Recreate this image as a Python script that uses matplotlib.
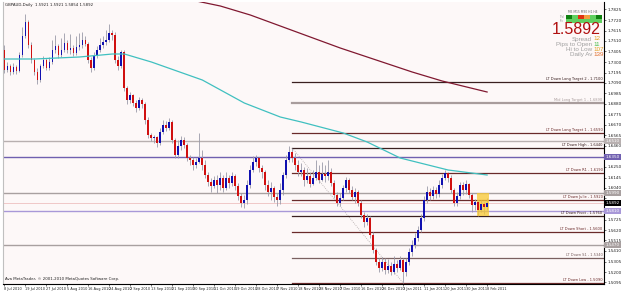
import matplotlib
matplotlib.use("Agg")
import matplotlib.pyplot as plt
import matplotlib.transforms as mtransforms
from matplotlib.patches import Rectangle

# ---------------- data ----------------
first_open = 1.742
close = [1.722,1.726,1.720,1.725,1.721,1.737,1.756,1.770,1.747,1.732,
         1.720,1.712,1.726,1.732,1.724,1.730,1.742,1.746,1.737,1.742,
         1.749,1.742,1.744,1.739,1.745,1.747,1.752,1.748,1.732,1.724,
         1.736,1.742,1.747,1.750,1.752,1.759,1.757,1.732,1.726,1.740,
         1.704,1.692,1.697,1.689,1.684,1.692,1.688,1.672,1.657,1.654,
         1.655,1.649,1.660,1.667,1.664,1.670,1.652,1.637,1.646,1.652,
         1.647,1.634,1.632,1.627,1.630,1.634,1.627,1.617,1.610,1.606,
         1.612,1.607,1.614,1.604,1.614,1.609,1.616,1.606,1.596,1.589,
         1.592,1.607,1.622,1.630,1.634,1.624,1.620,1.607,1.600,1.604,
         1.595,1.592,1.602,1.617,1.632,1.640,1.634,1.627,1.620,1.622,
         1.612,1.616,1.608,1.614,1.620,1.612,1.618,1.616,1.620,1.609,
         1.597,1.589,1.594,1.604,1.612,1.602,1.595,1.600,1.589,1.577,
         1.570,1.574,1.557,1.542,1.530,1.524,1.530,1.522,1.526,1.520,
         1.528,1.524,1.532,1.520,1.530,1.540,1.547,1.554,1.562,1.574,
         1.592,1.600,1.596,1.602,1.598,1.607,1.614,1.619,1.614,1.602,
         1.589,1.596,1.607,1.602,1.608,1.597,1.587,1.590,1.582,1.588,
         1.585,1.589]
high = [1.747,1.730,1.728,1.729,1.727,1.740,1.765,1.778,1.772,1.750,
        1.734,1.724,1.728,1.736,1.734,1.735,1.752,1.757,1.748,1.754,
        1.759,1.752,1.758,1.747,1.756,1.759,1.760,1.756,1.750,1.735,
        1.740,1.746,1.754,1.756,1.762,1.768,1.762,1.760,1.736,1.742,
        1.742,1.706,1.700,1.698,1.692,1.695,1.694,1.690,1.675,1.659,
        1.657,1.656,1.664,1.672,1.671,1.674,1.672,1.654,1.652,1.656,
        1.655,1.649,1.637,1.635,1.634,1.659,1.642,1.632,1.620,1.614,
        1.616,1.617,1.620,1.617,1.620,1.617,1.620,1.618,1.609,1.599,
        1.597,1.612,1.627,1.636,1.637,1.635,1.627,1.622,1.612,1.610,
        1.606,1.599,1.609,1.620,1.637,1.646,1.644,1.639,1.632,1.629,
        1.625,1.624,1.620,1.622,1.632,1.627,1.630,1.627,1.632,1.624,
        1.612,1.600,1.599,1.607,1.615,1.614,1.606,1.604,1.602,1.592,
        1.580,1.578,1.576,1.560,1.544,1.534,1.535,1.534,1.533,1.530,
        1.536,1.532,1.536,1.534,1.534,1.544,1.552,1.559,1.566,1.578,
        1.596,1.606,1.604,1.606,1.605,1.612,1.618,1.622,1.620,1.617,
        1.604,1.600,1.610,1.610,1.612,1.609,1.599,1.593,1.592,1.592,
        1.590,1.594]
low = [1.719,1.720,1.717,1.718,1.718,1.720,1.735,1.754,1.744,1.729,
       1.717,1.708,1.710,1.724,1.722,1.722,1.728,1.739,1.734,1.735,
       1.740,1.739,1.738,1.736,1.737,1.742,1.744,1.746,1.729,1.720,
       1.722,1.734,1.740,1.744,1.747,1.750,1.752,1.729,1.722,1.724,
       1.701,1.688,1.689,1.686,1.680,1.682,1.684,1.668,1.654,1.651,
       1.649,1.645,1.647,1.658,1.661,1.662,1.649,1.634,1.634,1.642,
       1.644,1.631,1.627,1.622,1.624,1.629,1.622,1.614,1.606,1.600,
       1.604,1.599,1.602,1.600,1.602,1.604,1.606,1.602,1.592,1.585,
       1.584,1.588,1.604,1.620,1.626,1.620,1.614,1.602,1.596,1.592,
       1.590,1.586,1.588,1.597,1.614,1.630,1.630,1.622,1.616,1.616,
       1.606,1.609,1.605,1.607,1.612,1.609,1.611,1.610,1.612,1.606,
       1.594,1.586,1.586,1.592,1.600,1.599,1.592,1.589,1.586,1.574,
       1.565,1.567,1.554,1.539,1.527,1.520,1.521,1.518,1.519,1.517,
       1.518,1.520,1.522,1.509,1.516,1.527,1.536,1.544,1.551,1.560,
       1.571,1.589,1.592,1.593,1.594,1.595,1.604,1.612,1.610,1.599,
       1.586,1.586,1.593,1.597,1.598,1.594,1.580,1.582,1.576,1.580,
       1.578,1.582]

ma_fast_idx = [0, 10, 25, 36, 40, 49, 66, 80, 92, 99, 113, 121, 132, 148, 161]
ma_fast_val = [1.733, 1.733, 1.735, 1.738, 1.738, 1.730, 1.712, 1.689, 1.675,
               1.670, 1.659, 1.650, 1.634, 1.622, 1.617]
ma_slow_idx = [58, 64, 72, 82, 92, 102, 112, 124, 136, 146, 161]
ma_slow_val = [1.800, 1.791, 1.786, 1.777, 1.766, 1.755, 1.744, 1.732, 1.720,
               1.711, 1.700]

date_labels = ["8 Jul 2010", "19 Jul 2010", "27 Jul 2010", "5 Aug 2010",
               "16 Aug 2010", "24 Aug 2010", "2 Sep 2010", "13 Sep 2010",
               "21 Sep 2010", "30 Sep 2010", "11 Oct 2010", "19 Oct 2010",
               "28 Oct 2010", "7 Nov 2010", "18 Nov 2010", "28 Nov 2010",
               "7 Dec 2010", "16 Dec 2010", "26 Dec 2010", "3 Jan 2011",
               "11 Jan 2011", "20 Jan 2011", "30 Jan 2011", "8 Feb 2011"]
date_step = 7

level_names = ["LT Down Long Target 2", "Mid Long Target 1", "LT Down Long Target 1",
               "LT Down High", "LT Down R1", "LT Down Julie", "LT Down Pivot",
               "LT Down Short", "LT Down S1", "LT Down Low"]
level_vals = [1.710, 1.689, 1.659, 1.644, 1.619, 1.592, 1.576, 1.560, 1.534, 1.509]
level_colors = ["#3a2020", "#a89c9c", "#6a2a2a", "#3a2020", "#6a2a2a", "#6a2a2a",
                "#3a2020", "#6a2a2a", "#7a6060", "#6a2a2a"]
full_vals = [1.651, 1.635, 1.599, 1.581, 1.547]
full_colors = ["#b8b0b0", "#7060b0", "#a8a0a0", "#a898d8", "#a8a0a0"]
bid = 1.5892
trend_from = (96, 1.644)
trend_to = (133, 1.509)

panel_cols = ["#108010", "#60d060", "#e03010", "#f0a040", "#60d060", "#108010"]
info_price = "1.5892"
info_rows = [("Spread", "12", "#e0a020"), ("Pips to Open", "11", "#50c050"),
             ("Hi to Low", "107", "#e0a020"), ("Daily Av", "139", "#e07030")]

# ---------------- figure ----------------
W, H = 625, 296
fig = plt.figure(figsize=(W/100, H/100), dpi=100)
fig.patch.set_facecolor("#ffffff")
ax = fig.add_axes([3/W, 12/H, 601/W, 282/H])
ax.set_facecolor("#fdf8f8")
ax.set_xlim(-0.5, 200.0)
ax.set_ylim(1.508, 1.790)

n = len(close)
opens = [first_open] + close[:-1]
xs = list(range(n))

ax.vlines(xs, low, high, colors="#9a9aa8", linewidth=0.6, zorder=3)
for i in range(n):
    o, c = opens[i], close[i]
    col = "#1010b0" if c >= o else "#d01010"
    h = max(abs(c - o), 0.0006)
    ax.bar(i, h, bottom=min(o, c), width=0.62, color=col, linewidth=0, zorder=4)

ax.plot(ma_fast_idx, ma_fast_val, color="#40c0c0", lw=0.9, zorder=5)
ax.plot(ma_slow_idx, ma_slow_val, color="#801830", lw=0.9, zorder=5)

ax.plot([trend_from[0], trend_to[0]], [trend_from[1], trend_to[1]],
        color="#b0a8a8", lw=0.6, ls=(0, (1, 1.5)), zorder=2)

blend = mtransforms.blended_transform_factory(ax.transAxes, ax.transData)

for v, c in zip(full_vals, full_colors):
    ax.axhline(v, color=c, lw=1.0, zorder=2)
    ax.text(1.002, v, f"{v:.4f}", transform=blend, fontsize=3.0, color="white",
            va="center", ha="left", clip_on=False, zorder=10,
            bbox=dict(boxstyle="square,pad=0.3", fc=c, ec="none"))

ax.axhline(bid, color="#f0c8c8", lw=0.7, zorder=2)
ax.text(1.002, bid, f"{bid:.4f}", transform=blend, fontsize=3.0, color="white",
        va="center", ha="left", clip_on=False, zorder=11,
        bbox=dict(boxstyle="square,pad=0.3", fc="black", ec="none"))

for name, v, c in zip(level_names, level_vals, level_colors):
    lw = 1.6 if name.startswith("Mid") else 0.9
    ax.plot([96, 200], [v, v], color=c, lw=lw, zorder=2)
    ax.text(199.5, v + 0.0012, f"{name} - {v:.4f}", fontsize=2.6, color=c,
            ha="right", va="bottom", zorder=6)

ax.add_patch(Rectangle((157.5, min(low[156:])), 4.0, max(high[156:]) - min(low[156:]),
                       fc="#f8c830", ec="none", alpha=0.75, zorder=3))

ax.spines["top"].set_visible(False)
ax.spines["left"].set_color("#c0c0c0")
ax.spines["left"].set_linewidth(0.8)
ax.spines["right"].set_color("black")
ax.spines["right"].set_linewidth(0.8)
ax.spines["bottom"].set_color("black")
ax.spines["bottom"].set_linewidth(0.8)

ax.yaxis.tick_right()
boxed = full_vals + [bid]
yt = [1.5095 + 0.0105 * k for k in range(27)]
yt = [v for v in yt if v < 1.790]
ax.set_yticks(yt)
ax.set_yticklabels(["" if min(abs(v - b) for b in boxed) < 0.0045 else f"{v:.4f}"
                    for v in yt], fontsize=3.0, color="#202020")
ax.tick_params(axis="y", length=1.5, width=0.4, pad=1)

xt = [k * date_step for k in range(len(date_labels))]
ax.set_xticks(xt)
ax.set_xticklabels(date_labels, fontsize=2.5, ha="left", color="#202020")
ax.tick_params(axis="x", length=1.5, width=0.4, pad=1)

ax.text(0.003, 0.995, "GBPAUD,Daily  1.5921 1.5921 1.5854 1.5892", transform=ax.transAxes,
        fontsize=2.8, va="top", ha="left", color="#202020")
ax.text(0.003, 0.012, "Ava MetaTrader, \u00a9 2001-2010 MetaQuotes Software Corp.",
        transform=ax.transAxes, fontsize=2.8, va="bottom", ha="left", color="#202020")

def fx(px):
    return px / W
def fy(py):
    return 1 - py / H

for k, c in enumerate(panel_cols):
    fig.patches.append(Rectangle((fx(566 + k * 6), fy(19)), 6/W, 4/H, fc=c, ec="none",
                                 transform=fig.transFigure, figure=fig))
fig.patches.append(Rectangle((fx(566), fy(23)), 36/W, 3.5/H, fc="#60d060", ec="none",
                             transform=fig.transFigure, figure=fig))
fig.text(fx(568), fy(12), "M5 M15 M30 H1 H4", fontsize=2.2, color="#606060", va="center")
fig.text(fx(564), fy(16.5), "Trd", fontsize=2.2, color="#909090", va="center", ha="right")
fig.text(fx(564), fy(21), "Frc", fontsize=2.2, color="#909090", va="center", ha="right")
fig.text(fx(601), fy(34.5), info_price, fontsize=11.5, color="#b01010", ha="right",
         va="baseline", family="Liberation Sans")
for k, (lab, val, col) in enumerate(info_rows):
    y = fy(40.5 + k * 5.3)
    fig.text(fx(592), y, lab, fontsize=4.5, color="#a0a0a0", ha="right", va="baseline",
             family="Liberation Sans")
    fig.text(fx(593), y, val, fontsize=4.5, color=col, ha="left", va="baseline",
             family="Liberation Sans")

fig.savefig("out.png", dpi=100, facecolor=fig.get_facecolor())
